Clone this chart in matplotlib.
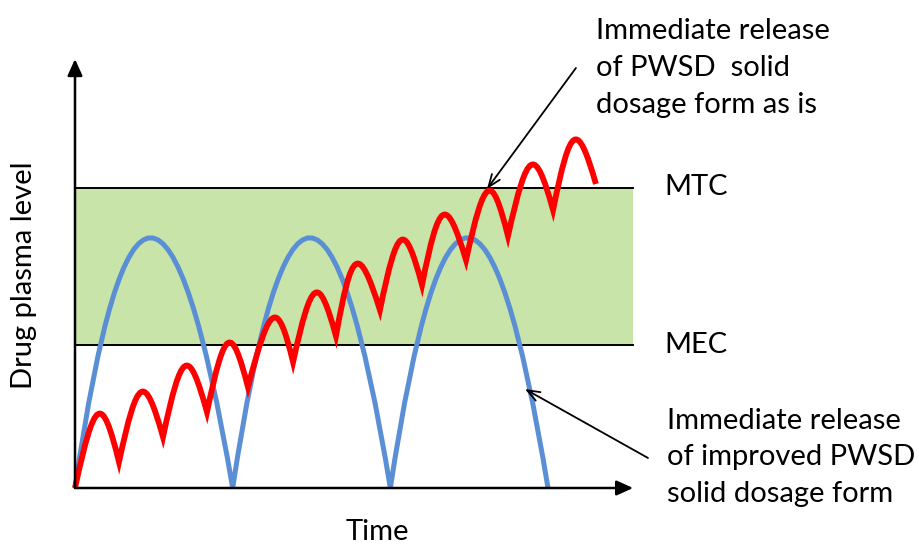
import matplotlib
matplotlib.use("Agg")
import matplotlib.pyplot as plt
from matplotlib.path import Path
from matplotlib.patches import PathPatch
import numpy as np

plt.rcParams['font.family'] = ['Lato', 'DejaVu Sans']

# ---- data (time in dosing intervals of the improved form, level relative to MEC) ----
MEC = 1.0
MTC = 2.10

# improved PWSD form: troughs (zero) and peaks
blue_zero_t = [0.0, 1.0, 2.0, 3.0]
blue_zero_level = [0.0, 0.0, 0.0, 0.0]
blue_peak_t = [0.48, 1.49, 2.49]
blue_peak_level = [1.75, 1.75, 1.75]

# PWSD as is: troughs (incl. start and end points) and peaks
red_trough_t = [0.0, 0.279, 0.558, 0.837, 1.097, 1.383, 1.655, 1.934, 2.201, 2.480, 2.746, 3.032, 3.304]
red_trough_level = [0.0, 0.182, 0.357, 0.531, 0.706, 0.881, 1.063, 1.245, 1.420, 1.594, 1.762, 1.944, 2.126]
red_peak_t = [0.146, 0.419, 0.698, 0.970, 1.256, 1.522, 1.782, 2.068, 2.334, 2.619, 2.892, 3.165]
red_peak_level = [0.517, 0.671, 0.853, 1.014, 1.189, 1.364, 1.566, 1.734, 1.909, 2.077, 2.259, 2.434]

labels_top = ["Immediate release", "of PWSD  solid", "dosage form as is"]
labels_bottom = ["Immediate release", "of improved PWSD", "solid dosage form"]

X_END = 3.54
Y_END = 3.0

fig = plt.figure(figsize=(9.19, 5.45), dpi=100)
ax = fig.add_axes([0, 0, 1, 1])
ax.set_xlim(-75 / 157.67, (919 - 75) / 157.67)
ax.set_ylim((488 - 545) / 143.0, 488 / 143.0)
ax.axis('off')

# therapeutic window
ax.fill_between([0, X_END], MEC, MTC, color='#C9E4A9', lw=0, zorder=1)
ax.plot([0, X_END], [MEC, MEC], color='black', lw=1.4, zorder=2)
ax.plot([0, X_END], [MTC, MTC], color='black', lw=1.4, zorder=2)


def arch_path(starts_t, starts_y, ends_t, ends_y, peaks_t, peaks_y, cubic=True):
    verts, codes = [], []
    s = 4 / (3 * np.pi)
    for i, (pt, py) in enumerate(zip(peaks_t, peaks_y)):
        a = np.array([starts_t[i], starts_y[i]], float)
        b = np.array([ends_t[i], ends_y[i]], float)
        p = np.array([pt, py], float)
        if i == 0:
            verts.append(a); codes.append(Path.MOVETO)
        if cubic:
            mid = (a + b) / 2
            h = p[1] - mid[1]
            dx = (p[0] - mid[0]) / 0.75
            c1 = a + s * (b - a) + np.array([dx, 4 * h / 3])
            c2 = a + (1 - s) * (b - a) + np.array([dx, 4 * h / 3])
            verts += [c1, c2, b]
            codes += [Path.CURVE4] * 3
        else:
            c = 2 * p - (a + b) / 2
            verts += [c, b]
            codes += [Path.CURVE3] * 2
    return Path(verts, codes)


blue_path = arch_path(blue_zero_t[:-1], blue_zero_level[:-1], blue_zero_t[1:], blue_zero_level[1:],
                      blue_peak_t, blue_peak_level, cubic=False)
ax.add_patch(PathPatch(blue_path, facecolor='none', edgecolor='#5B8FD5', lw=3.6,
                       capstyle='butt', joinstyle='miter', zorder=4))

red_path = arch_path(red_trough_t[:-1], red_trough_level[:-1],
                     red_trough_t[1:], red_trough_level[1:],
                     red_peak_t, red_peak_level, cubic=True)
ax.add_patch(PathPatch(red_path, facecolor='none', edgecolor='#FF0000', lw=4.2,
                       capstyle='butt', joinstyle='miter', zorder=5))

# axes arrows
ax.annotate('', xy=(X_END, 0), xytext=(0, 0),
            arrowprops=dict(arrowstyle='-|>,head_length=1.0,head_width=0.45',
                            lw=1.8, color='black', shrinkA=0, shrinkB=0), zorder=6)
ax.annotate('', xy=(0, Y_END), xytext=(0, 0),
            arrowprops=dict(arrowstyle='-|>,head_length=1.0,head_width=0.45',
                            lw=1.8, color='black', shrinkA=0, shrinkB=0), zorder=6)

# callout arrows
ax.annotate('', xy=(2.613, 2.091), xytext=(3.177, 2.937),
            arrowprops=dict(arrowstyle='->,head_length=0.9,head_width=0.35',
                            lw=1.3, color='black', shrinkA=0, shrinkB=0), zorder=7)
ax.annotate('', xy=(2.854, 0.692), xytext=(3.634, 0.210),
            arrowprops=dict(arrowstyle='->,head_length=0.9,head_width=0.35',
                            lw=1.3, color='black', shrinkA=0, shrinkB=0), zorder=7)

fs = 21
tr = fig.transFigure
def px(x, y):
    return x / 919.0, 1 - y / 545.0

for i, s in enumerate(labels_top):
    ax.text(*px(596, 39 + 37 * i), s, transform=tr, fontsize=fs, ha='left', va='baseline')
for i, s in enumerate(labels_bottom):
    ax.text(*px(667, 429 + 36.5 * i), s, transform=tr, fontsize=fs, ha='left', va='baseline')
ax.text(*px(664, 187), 'MTC', transform=tr, fontsize=fs, ha='left', va='center')
ax.text(*px(664, 345), 'MEC', transform=tr, fontsize=fs, ha='left', va='center')
ax.text(*px(377, 532), 'Time', transform=tr, fontsize=fs, ha='center', va='center')
ax.text(*px(24, 275), 'Drug plasma level', transform=tr, fontsize=fs, ha='center',
        va='center', rotation=90)

fig.savefig('out.png', dpi=100)
